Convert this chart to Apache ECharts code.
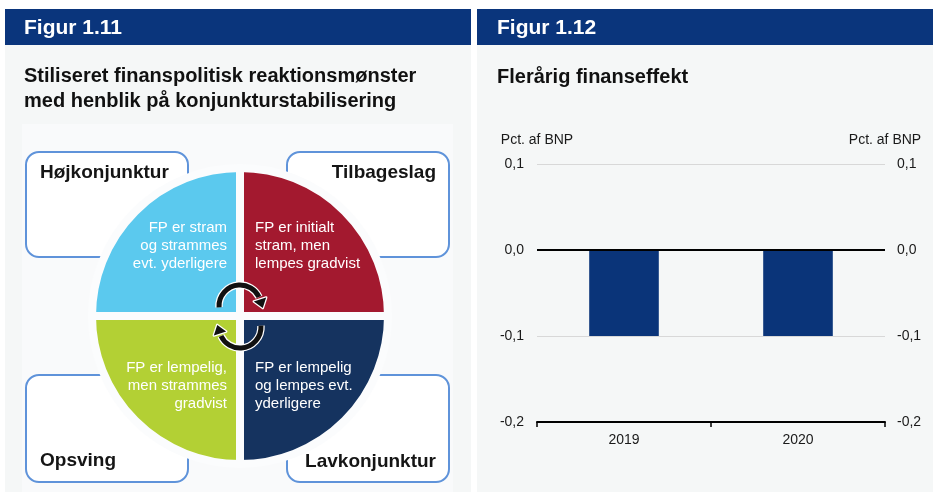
<!DOCTYPE html>
<html>
<head>
<meta charset="utf-8">
<script src="https://cdn.jsdelivr.net/npm/echarts@6/dist/echarts.min.js"></script>
<style>
html,body{margin:0;padding:0;background:#fff;}
#c{width:933px;height:492px;}
</style>
</head>
<body>
<div id="c"></div>
<script>
// ---- Figur 1.11 (diagram) ----
const phases = ['Tilbageslag', 'Lavkonjunktur', 'Opsving', 'Højkonjunktur'];
const phaseShare = [1, 1, 1, 1];
const phaseColors = ['#a3192f', '#15335f', '#b3d034', '#5bc9ee'];
const policyText = [
  ['FP er initialt', 'stram, men', 'lempes gradvist'],
  ['FP er lempelig', 'og lempes evt.', 'yderligere'],
  ['FP er lempelig,', 'men strammes', 'gradvist'],
  ['FP er stram', 'og strammes', 'evt. yderligere']
];
// ---- Figur 1.12 (bar chart) ----
const years = ['2019', '2020'];
const finanseffekt = [-0.1, -0.1];
const yMin = -0.2, yMax = 0.1, yStep = 0.1;

const FONT = '"Liberation Sans", Arial, Helvetica, sans-serif';
const BLUE = '#0a357c';
const cx = 240, cy = 316;

const chart = echarts.init(document.getElementById('c'), null, {renderer: 'canvas'});

// layout for diagram texts (quadrant order as phases)
const quadLayout = [
  {x: cx + 15, y: 228, align: 'left'},
  {x: cx + 15, y: 368, align: 'left'},
  {x: cx - 13, y: 368, align: 'right'},
  {x: cx - 13, y: 228, align: 'right'}
];
const boxLayout = [
  {bx: 287, by: 152, bh: 105, tx: 436, ty: 173, align: 'right'},
  {bx: 287, by: 375, bh: 107, tx: 436, ty: 462, align: 'right'},
  {bx: 26, by: 375, bh: 107, tx: 40, ty: 461, align: 'left'},
  {bx: 26, by: 152, bh: 105, tx: 40, ty: 173, align: 'left'}
];

const graphics = [
  {type: 'rect', z: -10, shape: {x: 5, y: 45, width: 466, height: 447}, style: {fill: '#f5f7f7'}},
  {type: 'rect', z: -10, shape: {x: 477, y: 45, width: 456, height: 447}, style: {fill: '#f5f7f7'}},
  {type: 'rect', z: -9, shape: {x: 22, y: 124, width: 431, height: 368}, style: {fill: '#f9fafb'}},
  {type: 'rect', z: -10, shape: {x: 5, y: 9, width: 466, height: 36}, style: {fill: BLUE}},
  {type: 'rect', z: -10, shape: {x: 477, y: 9, width: 456, height: 36}, style: {fill: BLUE}},
  {type: 'text', z: 10, style: {x: 24, y: 28, text: 'Figur 1.11', fill: '#fff', font: 'bold 21px ' + FONT, textVerticalAlign: 'middle'}},
  {type: 'text', z: 10, style: {x: 497, y: 28, text: 'Figur 1.12', fill: '#fff', font: 'bold 21px ' + FONT, textVerticalAlign: 'middle'}},
  {type: 'text', z: 10, style: {x: 24, y: 76, text: 'Stiliseret finanspolitisk reaktionsmønster', fill: '#111', font: 'bold 20px ' + FONT, textVerticalAlign: 'middle'}},
  {type: 'text', z: 10, style: {x: 24, y: 101, text: 'med henblik på konjunkturstabilisering', fill: '#111', font: 'bold 20px ' + FONT, textVerticalAlign: 'middle'}},
  {type: 'text', z: 10, style: {x: 497, y: 77, text: 'Flerårig finanseffekt', fill: '#111', font: 'bold 20px ' + FONT, textVerticalAlign: 'middle'}}
];

phases.forEach(function (name, i) {
  const b = boxLayout[i];
  graphics.push({type: 'rect', z: -5, shape: {x: b.bx, y: b.by, width: 162, height: b.bh, r: 13},
    style: {fill: '#ffffff', stroke: '#5f93da', lineWidth: 2}});
  graphics.push({type: 'text', z: 10, style: {x: b.tx, y: b.ty, text: name, fill: '#151515',
    font: 'bold 19px ' + FONT, textAlign: b.align, textVerticalAlign: 'middle'}});
  const q = quadLayout[i];
  policyText[i].forEach(function (line, k) {
    graphics.push({type: 'text', z: 10, style: {x: q.x, y: q.y + k * 18, text: line, fill: '#ffffff',
      font: '15px ' + FONT, textAlign: q.align, textVerticalAlign: 'middle'}});
  });
});

// cycle arrows: arc from a0 to a1, arrowhead around angle ah
function arrow(acx, acy, r, a0, a1, ah) {
  const bx = acx + r * Math.cos(ah), by = acy + r * Math.sin(ah);
  const tx = -Math.sin(ah), ty = Math.cos(ah);
  const nx = Math.cos(ah), ny = Math.sin(ah);
  const pts = [[bx + 9 * tx, by + 9 * ty], [bx + 6.5 * nx, by + 6.5 * ny], [bx - 6.5 * nx, by - 6.5 * ny]];
  graphics.push({type: 'arc', z: 20, shape: {cx: acx, cy: acy, r: r, startAngle: a0, endAngle: a1, clockwise: true},
    style: {stroke: '#ffffff', lineWidth: 7.5, fill: null}});
  graphics.push({type: 'polygon', z: 20, shape: {points: pts}, style: {fill: '#ffffff', stroke: '#ffffff', lineWidth: 2.5, lineJoin: 'round'}});
  graphics.push({type: 'arc', z: 21, shape: {cx: acx, cy: acy, r: r, startAngle: a0, endAngle: a1, clockwise: true},
    style: {stroke: '#111', lineWidth: 5, fill: null}});
  graphics.push({type: 'polygon', z: 21, shape: {points: pts}, style: {fill: '#111'}});
}
arrow(cx, 306, 21, Math.PI * 0.98, Math.PI * 1.86, Math.PI * 1.9);
arrow(cx, 327, 21, -Math.PI * 0.02, Math.PI * 0.86, Math.PI * 0.9);

const fmt = function (v) { return v.toFixed(1).replace('.', ','); };
const axisLabelStyle = {color: '#1a1a1a', fontSize: 14, fontFamily: FONT};

chart.setOption({
  backgroundColor: '#ffffff',
  animation: false,
  graphic: {elements: graphics},
  grid: {left: 537, right: 48, top: 164, height: 258, containLabel: false},
  xAxis: {
    type: 'category', data: years, boundaryGap: true,
    axisLine: {onZero: false, lineStyle: {color: '#000', width: 2}},
    axisTick: {show: true, length: 5, lineStyle: {color: '#000', width: 1.5}},
    axisLabel: Object.assign({margin: 11}, axisLabelStyle)
  },
  yAxis: [
    {type: 'value', min: yMin, max: yMax, interval: yStep, position: 'left',
      name: 'Pct. af BNP', nameLocation: 'end', nameGap: 17,
      nameTextStyle: {color: '#1a1a1a', fontSize: 14, fontFamily: FONT},
      axisLine: {show: false}, axisTick: {show: false},
      axisLabel: Object.assign({margin: 13, formatter: fmt}, axisLabelStyle),
      splitLine: {show: true, lineStyle: {color: '#d8d8d8', width: 1}}},
    {type: 'value', min: yMin, max: yMax, interval: yStep, position: 'right',
      name: 'Pct. af BNP', nameLocation: 'end', nameGap: 17,
      nameTextStyle: {color: '#1a1a1a', fontSize: 14, fontFamily: FONT},
      axisLine: {show: false}, axisTick: {show: false},
      axisLabel: Object.assign({margin: 12, formatter: fmt}, axisLabelStyle),
      splitLine: {show: false}}
  ],
  series: [
    {
      type: 'pie', silent: true, center: [cx, cy], radius: [0, 148],
      startAngle: 90, clockwise: true,
      label: {show: false}, labelLine: {show: false},
      emphasis: {disabled: true},
      itemStyle: {borderColor: '#fbfcfd', borderWidth: 8},
      data: phases.map(function (p, i) {
        return {name: p, value: phaseShare[i], itemStyle: {color: phaseColors[i]}};
      })
    },
    {
      type: 'bar', xAxisIndex: 0, yAxisIndex: 0, data: finanseffekt, barWidth: '40%',
      itemStyle: {color: '#0a3479'}, silent: true,
      markLine: {silent: true, symbol: 'none', label: {show: false},
        lineStyle: {color: '#000', width: 2, type: 'solid'},
        data: [{yAxis: 0}]}
    }
  ]
});
</script>
</body>
</html>
